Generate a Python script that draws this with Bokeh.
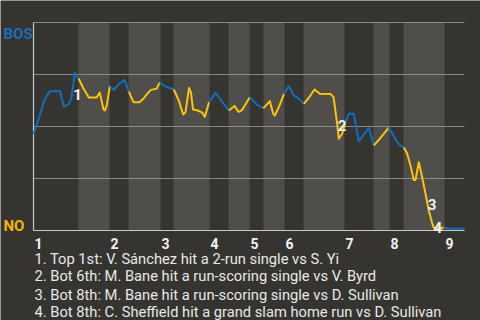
from bokeh.plotting import figure
from bokeh.models import Range1d
from bokeh.core.properties import value
from bokeh.embed import file_html
from bokeh.resources import INLINE
import bisect

# ---- data ----
# game progress (0-100) and Boston win probability
play_x = [0, 1.39, 2.55, 3.83, 6.15, 7.03, 8.12, 8.82, 9.58, 10.44,
          11.60, 12.83, 14.62, 15.38, 16.24, 16.59, 17.05, 17.70, 18.63, 19.72,
          21.11, 22.11, 23.20, 24.59, 25.64, 26.45, 27.26, 28.54, 29.30, 30.23,
          31.39, 32.55, 33.71, 34.73, 35.27, 36.08, 36.54, 37.01, 38.12, 39.14,
          39.75, 40.72, 42.23, 42.99, 44.15, 45.31, 46.64, 47.56, 48.38, 49.30,
          50.19, 51.90, 53.30, 54.06, 54.83, 55.62, 55.99, 57.15, 58.12, 59.24,
          60.26, 61.56, 62.72, 63.88, 65.20, 66.43, 68.91, 69.61, 70.19, 70.46,
          70.84, 71.62, 72.27, 73.16, 74.32, 75.48, 77.80, 78.96, 80.12, 82.44,
          84.39, 85.15, 85.92, 86.71, 87.47, 88.24, 88.63, 89.40, 90.19, 90.95,
          91.72, 92.51, 92.88, 95.20, 96.36, 100]
bos_wp = [0.462, 0.548, 0.630, 0.670, 0.670, 0.596, 0.606, 0.639, 0.757, 0.731,
          0.683, 0.639, 0.639, 0.663, 0.582, 0.577, 0.606, 0.694, 0.676, 0.702,
          0.724, 0.668, 0.617, 0.617, 0.637, 0.659, 0.676, 0.681, 0.712, 0.697,
          0.686, 0.678, 0.625, 0.558, 0.569, 0.685, 0.663, 0.582, 0.577, 0.567,
          0.546, 0.617, 0.662, 0.641, 0.609, 0.577, 0.599, 0.570, 0.579, 0.611,
          0.641, 0.604, 0.588, 0.604, 0.622, 0.561, 0.553, 0.604, 0.657, 0.694,
          0.652, 0.633, 0.609, 0.638, 0.678, 0.657, 0.656, 0.641, 0.553, 0.513,
          0.441, 0.465, 0.512, 0.561, 0.561, 0.428, 0.494, 0.409, 0.436, 0.495,
          0.425, 0.409, 0.399, 0.369, 0.313, 0.243, 0.243, 0.328, 0.255, 0.176,
          0.096, 0.034, 0.013, 0.013, 0.008, 0.008]

# starts of each half inning (top 1st, bot 1st, ... top 9th), and game end
half_starts = [0, 10.44, 17.63, 22.04, 29.47, 32.48, 40.84, 45.24, 50.12,
               53.36, 58.24, 62.65, 72.16, 78.89, 82.6, 85.85, 95.36]
game_end = 100
inning_labels = ["1", "2", "3", "4", "5", "6", "7", "8", "9"]

# key events
event_x = [10.2, 71.6, 92.5, 93.8]
event_wp = [0.654, 0.505, 0.125, 0.016]
event_num = ["1", "2", "3", "4"]
notes = [
    "1. Top 1st: V. Sánchez hit a 2-run single vs S. Yi",
    "2. Bot 6th: M. Bane hit a run-scoring single vs V. Byrd",
    "3. Bot 8th: M. Bane hit a run-scoring single vs D. Sullivan",
    "4. Bot 8th: C. Sheffield hit a grand slam home run vs D. Sullivan",
]
grid_levels = [0.25, 0.5, 0.75, 1.0]
teams = ["BOS", "NO"]

# ---- style ----
BG = "#363430"
BAND = "#4f4e4b"
GRID = "#8a8986"
AXIS = "#c8c8c8"
BLUE = "#0f6fbe"
YELLOW = "#ffc20a"
TEXT = "#e8e8e8"
FONT = value("Roboto")

# the frame covers the whole canvas; the chart area is x 0..100, y 0..1
p = figure(width=480, height=320, x_range=Range1d(-7.657, 103.712),
           y_range=Range1d(-0.43269, 1.10577),
           x_axis_type=None, y_axis_type=None, toolbar_location=None,
           output_backend="svg", min_border=0,
           background_fill_color=BG, border_fill_color=BG, outline_line_color=None)
p.xgrid.visible = False
p.ygrid.visible = False

# bottom-half bands
bounds = half_starts + [game_end]
band_left = [bounds[i] for i in range(1, len(half_starts), 2)]
band_right = [bounds[i + 1] for i in range(1, len(half_starts), 2)]
p.quad(left=band_left, right=band_right, bottom=0, top=1,
       fill_color=BAND, line_color=None)

# grid lines and axis lines
p.segment(x0=0, x1=game_end, y0=grid_levels, y1=grid_levels,
          line_color=GRID, line_width=1)
p.segment(x0=[0, 0], y0=[0, 0], x1=[0, game_end], y1=[1, 0],
          line_color=AXIS, line_width=1.2)

# win-probability line, coloured by the batting team
xs, ys, cols = [], [], []
cur = None
for i in range(len(play_x) - 1):
    mid = (play_x[i] + play_x[i + 1]) / 2
    half = bisect.bisect_right(half_starts, mid) - 1
    c = BLUE if half % 2 == 0 else YELLOW
    if c != cur:
        xs.append([play_x[i]])
        ys.append([bos_wp[i]])
        cols.append(c)
        cur = c
    xs[-1].append(play_x[i + 1])
    ys[-1].append(bos_wp[i + 1])
p.multi_line(xs=xs, ys=ys, line_color=cols, line_width=2, line_join="round")

# event markers
p.text(x=event_x, y=event_wp, text=event_num, text_font=FONT,
       text_font_size="15px", text_font_style="bold", text_color="#f2f2f2",
       text_align="center", text_baseline="middle")

# inning labels under the chart
p.text(x=[h + 0.25 for h in half_starts[0::2]], y=-0.0625, text=inning_labels,
       text_font=FONT, text_font_size="14px", text_font_style="bold",
       text_color="#f2f2f2", text_align="left", text_baseline="alphabetic")

# team labels at the top (BOS) and bottom (NO) of the scale
p.text(x=[-6.96, -6.96], y=[0.9457, 0.024], text=teams, text_font=FONT,
       text_font_size="15px", text_font_style="bold",
       text_color=["#1a6fbb", "#f2b705"], text_align="left",
       text_baseline="alphabetic")

# notes
note_y = [-0.136, -0.221, -0.308, -0.393]
p.text(x=0.23, y=note_y, text=notes, text_font=FONT, text_font_size="14.7px",
       text_color=TEXT, text_align="left", text_baseline="alphabetic")

open("out.html", "w").write(file_html(p, INLINE))
